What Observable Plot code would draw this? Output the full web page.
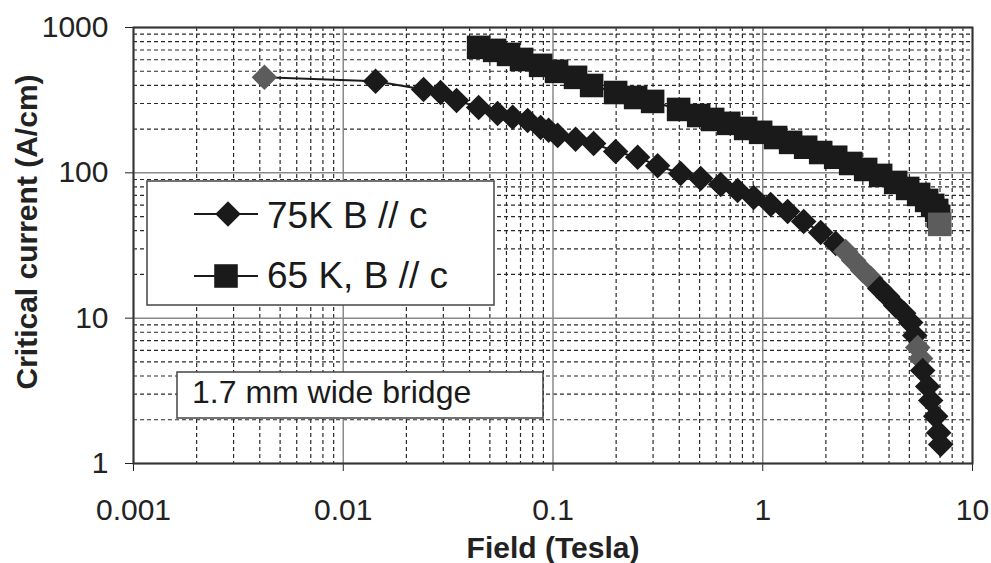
<!DOCTYPE html>
<html><head><meta charset="utf-8">
<script src="https://cdn.jsdelivr.net/npm/d3@7"></script>
<script src="https://cdn.jsdelivr.net/npm/@observablehq/plot@0.6"></script>
<style>
body{margin:0;background:#fff;}
#chart svg{display:block;}
</style></head><body><div id="chart"></div>
<script>
// 75 K, B // c  (diamonds)
const field75 = [0.00421, 0.01426, 0.02415, 0.0291, 0.0347, 0.0442, 0.0544, 0.0642, 0.0757, 0.0873,
  0.0953, 0.1052, 0.1281, 0.1562, 0.1989, 0.2532, 0.3154, 0.406, 0.506, 0.630,
  0.759, 0.905, 1.091, 1.314, 1.567, 1.889, 2.227, 2.486, 2.714, 2.995,
  3.269, 3.610, 3.941, 4.303, 4.698, 5.074, 5.303, 5.480, 5.662, 5.787,
  6.115, 6.320, 6.676, 6.900, 7.05];
const jc75 = [454, 426, 375, 357, 315, 282, 256, 241, 229, 205,
  196, 181, 170, 159, 140, 128, 112, 99, 91.5, 83.2,
  75.7, 67.7, 60.6, 54.2, 46.3, 38.9, 32.7, 28.8, 24.9, 21.3,
  18.8, 16.0, 14.1, 12.2, 10.8, 9.34, 7.60, 6.28, 5.28, 4.37,
  3.39, 2.71, 2.11, 1.63, 1.35];
// 65 K, B // c  (squares)
const field65 = [0.0442, 0.0527, 0.0614, 0.0708, 0.0873, 0.1040, 0.1281, 0.1528, 0.1989, 0.2477,
  0.2985, 0.397, 0.495, 0.577, 0.688, 0.829, 0.977, 1.152, 1.358, 1.602,
  1.889, 2.227, 2.626, 3.095, 3.649, 4.303, 4.909, 5.538, 6.047, 6.460,
  6.750, 6.900, 6.976];
const jc65 = [730, 696, 653, 603, 549, 499, 454, 399, 357, 330,
  310, 273, 248, 233, 219, 202, 190, 175, 162, 150,
  138, 128, 116, 105.5, 96, 85.9, 78.1, 71.0, 64.6, 59.7,
  55.1, 50.1, 44.2];

const xTicks = [0.001, 0.01, 0.1, 1, 10];
const xTickLabels = ["0.001", "0.01", "0.1", "1", "10"];
const yTicks = [1, 10, 100, 1000];
const yTickLabels = ["1", "10", "100", "1000"];
const seriesNames = ["75K B // c", "65 K, B // c"];
const noteText = "1.7 mm wide bridge";
const xTitle = "Field (Tesla)";
const yTitle = "Critical current (A/cm)";

const BLACK = "#1a1a1a", GRAY = "#5c5c5c";
const gray75 = new Set([0, 27, 28, 29, 30, 37, 38]);
const gray65 = new Set([field65.length - 1]);

const d75 = field75.map((x, i) => ({x, y: jc75[i], c: gray75.has(i) ? GRAY : BLACK}));
const d65 = field65.map((x, i) => ({x, y: jc65[i], c: gray65.has(i) ? GRAY : BLACK}));

const minorX = [], minorY = [];
for (let k = 0; k < xTicks.length - 1; k++) for (let m = 2; m <= 9; m++) minorX.push(xTicks[k] * m);
for (let k = 0; k < yTicks.length - 1; k++) for (let m = 2; m <= 9; m++) minorY.push(yTicks[k] * m);

const FONT = "'Liberation Sans', Arial, Helvetica, sans-serif";

const plot = Plot.plot({
  width: 991, height: 563,
  marginLeft: 133, marginRight: 19, marginTop: 27, marginBottom: 100,
  style: {fontFamily: FONT, fontSize: "30px", color: "#222", background: "#fff", overflow: "visible"},
  x: {type: "log", domain: [0.001, 10], ticks: xTicks, tickSize: 8, tickPadding: 27,
      tickFormat: d => xTickLabels[xTicks.indexOf(d)], label: null},
  y: {type: "log", domain: [1, 1000], ticks: yTicks, tickSize: 8, tickPadding: 17,
      tickFormat: d => yTickLabels[yTicks.indexOf(d)], label: null},
  color: {type: "identity"},
  marks: [
    Plot.ruleX(minorX, {stroke: "#2a2a2a", strokeWidth: 1.2, strokeDasharray: "4,3"}),
    Plot.ruleY(minorY, {stroke: "#2a2a2a", strokeWidth: 1.2, strokeDasharray: "4,3"}),
    Plot.ruleX(xTicks, {stroke: "#8a8a8a", strokeWidth: 1.5}),
    Plot.ruleY(yTicks, {stroke: "#8a8a8a", strokeWidth: 1.5}),
    Plot.frame({stroke: "#333", strokeWidth: 2}),
    Plot.line(d65, {x: "x", y: "y", stroke: BLACK, strokeWidth: 2}),
    Plot.dot(d65, {x: "x", y: "y", symbol: "square", r: 13.3, fill: "c", stroke: "none"}),
    Plot.line(d75, {x: "x", y: "y", stroke: BLACK, strokeWidth: 2}),
    Plot.dot(d75, {x: "x", y: "y", symbol: "diamond2", r: 11.5, fill: "c", stroke: "none"})
  ]
});

document.getElementById("chart").appendChild(plot);
const svg = d3.select(plot);

// axis titles
svg.append("text")
  .attr("x", 553).attr("y", 558)
  .attr("text-anchor", "middle")
  .attr("font-family", FONT).attr("font-size", 30).attr("font-weight", "bold").attr("fill", "#222")
  .text(xTitle);
svg.append("text")
  .attr("transform", "translate(37,232) rotate(-90)")
  .attr("text-anchor", "middle")
  .attr("font-family", FONT).attr("font-size", 30).attr("font-weight", "bold").attr("fill", "#222")
  .text(yTitle);

// legend box
const lg = svg.append("g");
lg.append("rect").attr("x", 147).attr("y", 181).attr("width", 347).attr("height", 124)
  .attr("fill", "#fff").attr("stroke", "#444").attr("stroke-width", 1.5);
const legendRows = [
  {name: seriesNames[0], cy: 214, base: 228, sym: d3.symbolDiamond2, size: Math.PI * 11.5 * 11.5, cx: 228},
  {name: seriesNames[1], cy: 276, base: 288, sym: d3.symbolSquare, size: Math.PI * 13.3 * 13.3, cx: 226}
];
legendRows.forEach(r => {
  lg.append("line").attr("x1", 194).attr("x2", 258).attr("y1", r.cy).attr("y2", r.cy)
    .attr("stroke", BLACK).attr("stroke-width", 2);
  lg.append("path").attr("d", d3.symbol(r.sym, r.size)())
    .attr("transform", `translate(${r.cx},${r.cy})`).attr("fill", BLACK);
  lg.append("text").attr("x", 267).attr("y", r.base).attr("text-anchor", "start")
    .attr("font-family", FONT).attr("font-size", 37).attr("fill", "#1a1a1a")
    .text(r.name);
});

// note box
const nb = svg.append("g");
nb.append("rect").attr("x", 177).attr("y", 372).attr("width", 366).attr("height", 46)
  .attr("fill", "#fff").attr("stroke", "#444").attr("stroke-width", 1.5);
nb.append("text").attr("x", 192).attr("y", 403).attr("text-anchor", "start")
  .attr("font-family", FONT).attr("font-size", 32).attr("fill", "#1a1a1a")
  .text(noteText);
</script>
</body></html>
